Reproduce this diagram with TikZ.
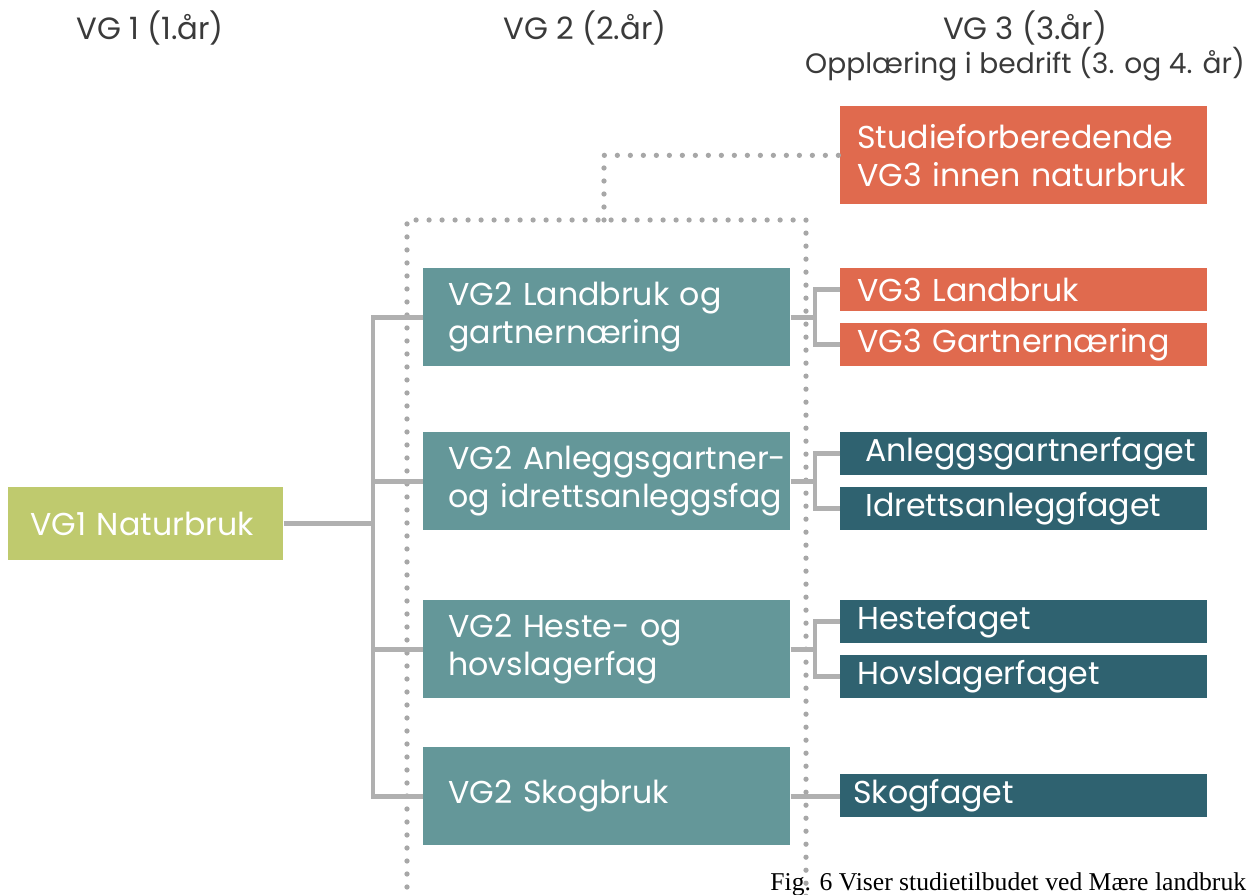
\documentclass[tikz,border=0pt]{standalone}
\usepackage{fontspec}
\setmainfont{Poppins}
\newfontfamily\captionfont{Liberation Serif}
\definecolor{naturgreen}{HTML}{BFCA6E}
\definecolor{vgteal}{HTML}{649799}
\definecolor{vgorange}{HTML}{E06A4E}
\definecolor{vgdark}{HTML}{2F6270}
\definecolor{linkgray}{HTML}{B0B0B0}
\definecolor{headgray}{HTML}{3A3A3A}
\begin{document}
\begin{tikzpicture}[x=0.02cm, y=-0.02cm]
    \tikzset{box/.style={rectangle, anchor=north west, inner sep=0pt,
        text=white, align=left, font=\fontsize{18}{21.5}\selectfont,
        execute at begin node={\leftskip=#1}}}
    \tikzset{vg one/.style={box=0.44cm, fill=naturgreen,
        text width=5.5cm, minimum height=1.46cm}}
    \tikzset{vg two/.style={box=0.5cm, fill=vgteal,
        text width=7.34cm, minimum height=1.96cm}}
    \tikzset{study/.style={box=0.34cm, fill=vgorange,
        text width=7.34cm, minimum height=1.96cm}}
    \tikzset{trade/.style={box=#1, text width=7.34cm,
        minimum height=0.86cm}}
    \tikzset{head/.style={text=headgray, font=\fontsize{17.5}{20.4}\selectfont,
        align=center}}
    \tikzset{link/.style={draw=linkgray, line width=2.8pt}}
    \tikzset{dots/.style={draw=linkgray!95!black, line width=3pt,
        line cap=round, dash pattern=on 0pt off 7.4pt}}

    \useasboundingbox (0,0) rectangle (1255,895);
    \clip (0,0) rectangle (1255,895);

    % headings
    \node (headone) [head] at (150,28) {VG 1 (1.år)};
    \node (headtwo) [head] at (585,28) {VG 2 (2.år)};
    \node (headthree) [head] at (1025,46) {VG 3 (3.år)\\[-1pt]
        {\fontsize{16}{20}\selectfont Opplæring i bedrift (3. og 4. år)}};

    % boxes
    \node (naturbruk) [vg one] at (8,487) {VG1 Naturbruk};
    \node (landbruk) [vg two] at (423,268) {VG2 Landbruk og\\gartnernæring};
    \node (anlegg) [vg two] at (423,432) {VG2 Anleggsgartner-\\og idrettsanleggsfag};
    \node (heste) [vg two] at (423,600) {VG2 Heste- og\\hovslagerfag};
    \node (skog) [vg two] at (423,747) {VG2 Skogbruk};

    \node (studie) [study] at (840,106) {Studieforberedende\\VG3 innen naturbruk};
    \node (vglandbruk) [trade=0.34cm, fill=vgorange] at (840,268) {VG3 Landbruk};
    \node (vggartner) [trade=0.34cm, fill=vgorange] at (840,323) {VG3 Gartnernæring};
    \node (anleggfag) [trade=0.5cm, fill=vgdark] at (840,432) {Anleggsgartnerfaget};
    \node (idrettfag) [trade=0.5cm, fill=vgdark] at (840,487) {Idrettsanleggfaget};
    \node (hestefag) [trade=0.34cm, fill=vgdark] at (840,600) {Hestefaget};
    \node (hovfag) [trade=0.34cm, fill=vgdark] at (840,655) {Hovslagerfaget};
    \node (skogfag) [trade=0.26cm, fill=vgdark] at (840,774) {Skogfaget};

    \coordinate (bus) at (373,0);
    \coordinate (fork) at (815,0);

    % dotted frame round VG2
    \draw [dots] (407,900) |- (806,220) -- (806,900);
    \draw [dots] (604,220) |- (studie.west);

    % connectors
    \draw [link] (naturbruk.east) -- (naturbruk.east -| bus);
    \draw [link] (landbruk.west) -| (bus |- skog.west) -- (skog.west);
    \draw [link] (bus |- anlegg.west) -- (anlegg.west);
    \draw [link] (bus |- heste.west) -- (heste.west);

    \draw [link] (landbruk.east) -- (landbruk.east -| fork);
    \draw [link] (vglandbruk.west) -| (fork |- landbruk.east) |- (vggartner.west);
    \draw [link] (anlegg.east) -- (anlegg.east -| fork);
    \draw [link] (anleggfag.west) -| (fork |- anlegg.east) |- (idrettfag.west);
    \draw [link] (heste.east) -- (heste.east -| fork);
    \draw [link] (hestefag.west) -| (fork |- heste.east) |- (hovfag.west);
    \draw [link] (skog.east) -- (skog.east -| skogfag.west);

    % caption
    \node (caption) [anchor=base west, inner sep=0pt, text=black,
        font=\captionfont\fontsize{14.6}{17}\selectfont] at (770,890)
        {Fig. 6 Viser studietilbudet ved Mære landbruk};
\end{tikzpicture}
\end{document}
